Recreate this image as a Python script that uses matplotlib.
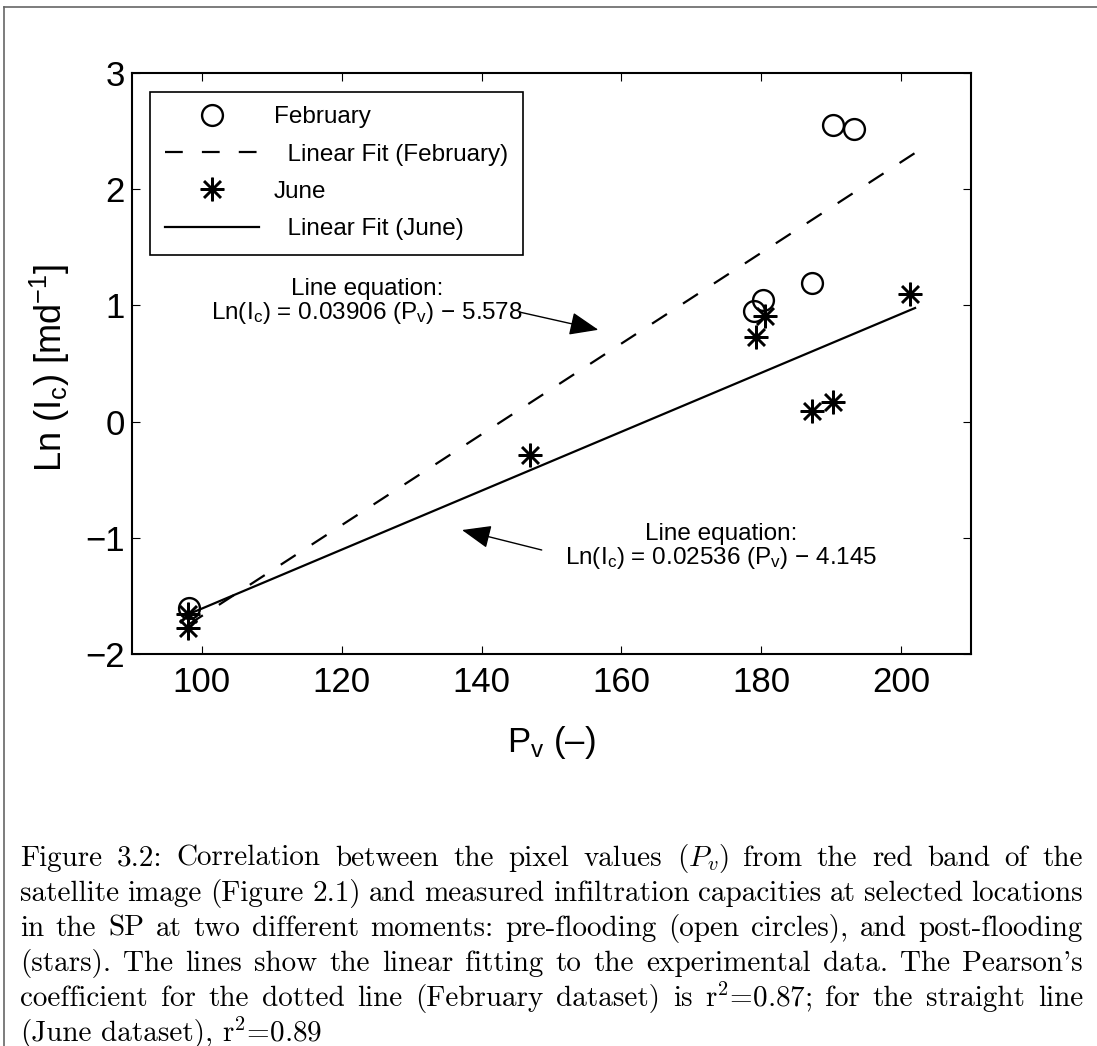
import numpy as np
import matplotlib
matplotlib.use("Agg")
import matplotlib.pyplot as plt
from matplotlib.lines import Line2D

plt.rcParams['font.family'] = ['Liberation Sans', 'DejaVu Sans']
plt.rcParams['mathtext.fontset'] = 'custom'
plt.rcParams['mathtext.rm'] = 'Liberation Sans'
plt.rcParams['mathtext.it'] = 'Liberation Sans'
plt.rcParams['mathtext.default'] = 'regular'

# data
feb_pv = [98.2, 179.0, 180.3, 187.3, 190.2, 193.3]
feb_ln = [-1.60, 0.95, 1.05, 1.19, 2.55, 2.52]
jun_pv = [98.0, 98.0, 146.9, 179.2, 180.5, 187.3, 190.2, 201.3]
jun_ln = [-1.66, -1.78, -0.29, 0.73, 0.91, 0.09, 0.17, 1.10]

# fitted lines, coefficients printed on the chart
fit_range = [98.0, 202.0]
feb_fit = (0.03906, -5.578)
jun_fit = (0.02536, -4.145)

x_ticks = [100, 120, 140, 160, 180, 200]
y_ticks = [-2, -1, 0, 1, 2, 3]

W, H = 1097, 1046
fig = plt.figure(figsize=(W / 100, H / 100), dpi=100)
ax = fig.add_axes([132 / W, 1 - 654 / H, (971 - 132) / W, (654 - 73) / H])

fx = np.array(fit_range)
ax.plot(feb_pv, feb_ln, 'o', ms=15, mfc='none', mec='black', mew=1.7,
        label='February')
ax.plot(fx, feb_fit[0] * fx + feb_fit[1], color='black', lw=1.6,
        dashes=(8.0, 8.6), label='  Linear Fit (February)')
ax.plot(jun_pv, jun_ln, marker=(8, 2, 0), ls='none', ms=17, color='black',
        mew=1.8, label='June')
ax.plot(fx, jun_fit[0] * fx + jun_fit[1], color='black', lw=1.6,
        label='  Linear Fit (June)')

ax.set_xlim(90, 210)
ax.set_ylim(-2, 3)
ax.set_xticks(x_ticks)
ax.set_yticks(y_ticks)
ax.tick_params(direction='in', top=True, right=True, length=6, width=0.8,
               labelsize=25)
ax.tick_params(axis='x', pad=9)
ax.tick_params(axis='y', pad=5)
for s in ax.spines.values():
    s.set_linewidth(1.5)

leg = ax.legend(loc='upper left', bbox_to_anchor=(0.0215, 0.968),
                borderaxespad=0, fontsize=17.5, handlelength=3.9,
                handletextpad=0.6, labelspacing=0.63, borderpad=0.6,
                fancybox=False, edgecolor='black', framealpha=1)
leg.get_frame().set_linewidth(1.2)

# equation annotations (two lines in one text, anchored at last baseline)
eq_kw = dict(fontsize=17.5, ha='center', va='baseline',
             multialignment='center', linespacing=1.0)
ax.text(123.6, 0.880,
        'Line equation:\nLn(I$_c$) = %.5f (P$_v$) \u2212 %.3f'
        % (feb_fit[0], -feb_fit[1]), **eq_kw)
ax.text(174.3, -1.226,
        'Line equation:\nLn(I$_c$) = %.5f (P$_v$) \u2212 %.3f'
        % (jun_fit[0], -jun_fit[1]), **eq_kw)
arrow = dict(arrowstyle='-|>,head_length=1.0,head_width=0.4', lw=1.0,
             color='black', mutation_scale=18, shrinkA=0, shrinkB=0)
ax.annotate('', xy=(156.7, 0.79), xytext=(145.4, 0.943), arrowprops=arrow)
ax.annotate('', xy=(137.2, -0.933), xytext=(148.6, -1.105), arrowprops=arrow)

fig.text(50 / W, 1 - 368 / H, 'Ln (I$_c$) [md$^{\u22121}$]', rotation=90,
         fontsize=26, ha='center', va='center')
fig.text(551 / W, 1 - 752 / H, 'P$_v$ (\u2013)', fontsize=25, ha='center',
         va='baseline')

# page frame
fig.add_artist(Line2D([4 / W, 1], [1 - 7 / H, 1 - 7 / H], color='#666666',
                      lw=1.2, transform=fig.transFigure))
fig.add_artist(Line2D([4 / W, 4 / W], [0, 1 - 7 / H], color='#666666',
                      lw=1.2, transform=fig.transFigure))

# caption, justified like the LaTeX source
caption = [
    "Figure 3.2: Correlation between the pixel values ($\\mathit{P_v}$) from the red band of the",
    "satellite image (Figure 2.1) and measured infiltration capacities at selected locations",
    "in the SP at two different moments: pre-flooding (open circles), and post-flooding",
    "(stars). The lines show the linear fitting to the experimental data. The Pearson's",
    "coefficient for the dotted line (February dataset) is r$^2$=0.87; for the straight line",
    "(June dataset), r$^2$=0.89",
]
cap_left, cap_right = 20, 1083
cap_base = [866, 901, 936, 971, 1006, 1041]
cap_kw = dict(fontsize=21, family='cmr10', math_fontfamily='cm',
              va='baseline', ha='left')
renderer = fig.canvas.get_renderer()
for i, line in enumerate(caption):
    words = line.split(' ')
    texts = [fig.text(0, 1 - cap_base[i] / H, w, **cap_kw) for w in words]
    widths = [t.get_window_extent(renderer).width for t in texts]
    if i < len(caption) - 1:
        gap = (cap_right - cap_left - sum(widths)) / (len(words) - 1)
    else:
        gap = 9
    x = cap_left
    for t, w in zip(texts, widths):
        t.set_x(x / W)
        x += w + gap

fig.savefig('out.png', dpi=100)
